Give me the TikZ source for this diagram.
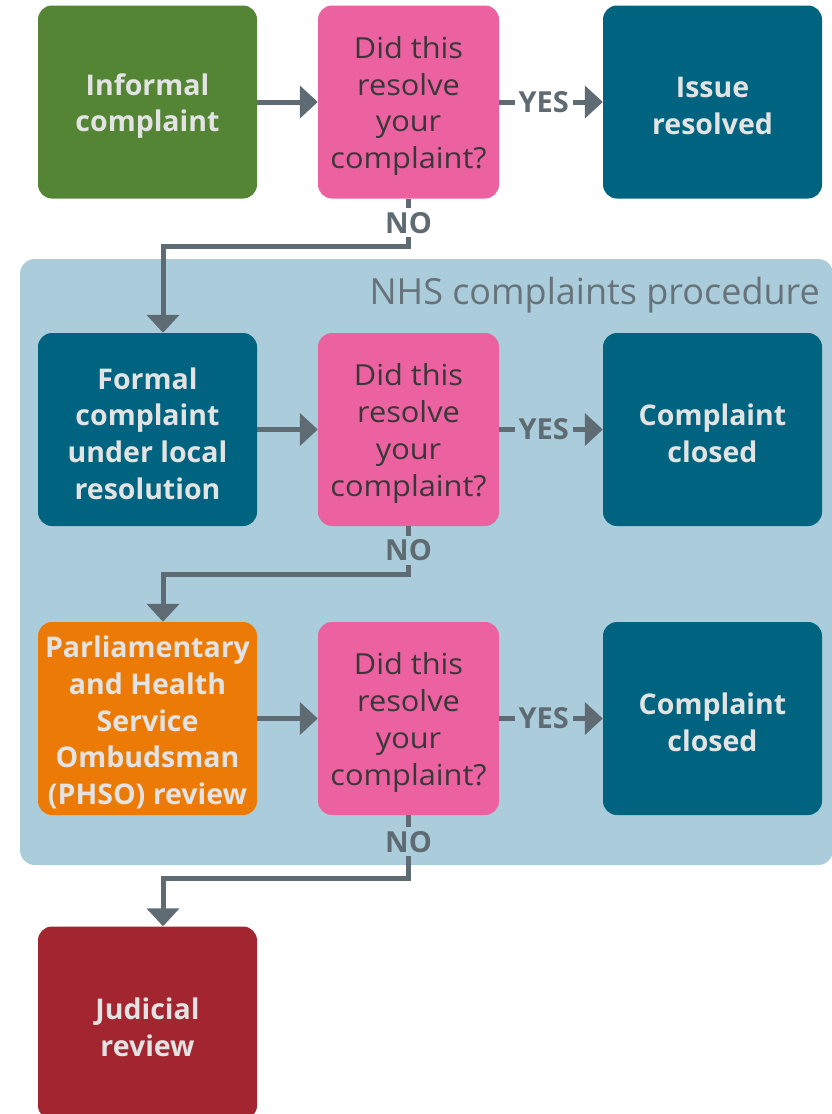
\documentclass[tikz,border=0pt]{standalone}
\usepackage{fontspec}
\setmainfont{Open Sans}
\newfontfamily\askfont{Open Sans}[FakeStretch=1.06]
\usetikzlibrary{arrows.meta}

\definecolor{informalgreen}{HTML}{538535}
\definecolor{askpink}{HTML}{EC61A0}
\definecolor{stageteal}{HTML}{00637F}
\definecolor{phsoorange}{HTML}{EC7A06}
\definecolor{judicialred}{HTML}{A22530}
\definecolor{panelblue}{HTML}{ABCCDA}
\definecolor{flowgray}{HTML}{5F6B73}
\definecolor{titlegray}{HTML}{67737B}
\definecolor{boxtext}{HTML}{E3E3E3}
\definecolor{asktext}{HTML}{383838}

\tikzset{
  stagebox/.style={rounded corners=14pt, minimum width=219pt, minimum height=193pt, inner sep=0pt},
  stagetext/.style={align=center, inner sep=0pt, yshift=-4pt, text=boxtext,
    font=\fontsize{28.5}{36.7}\selectfont\bfseries},
  asktext/.style={stagetext, text=asktext, font=\askfont\fontsize{29}{36.7}\selectfont},
  stage/.style={stagebox, label={[stagetext]center:#1}},
  ask/.style={stagebox, minimum width=181pt, fill=askpink, label={[asktext]center:#1}},
  flow/.style={draw=flowgray, line width=5pt, -{Triangle[width=32pt,length=18pt]}},
  answer/.style={font=\fontsize{29}{29}\selectfont\bfseries, text=flowgray, inner sep=4pt}
}

\begin{document}
\begin{tikzpicture}[x=1pt,y=-1pt]
  \useasboundingbox (0,0) rectangle (832,1114);
  % complaints procedure panel
  \fill [panelblue,rounded corners=15pt] (20,259) rectangle (833,865);
  \node [anchor=base east,inner sep=0pt,text=titlegray,font=\fontsize{36}{36}\selectfont] (panel) at (820,304) {NHS complaints procedure};

  % first row
  \node [stage={Informal\\complaint},fill=informalgreen] (informal) at (147.5,102) {};
  \node [ask={Did this\\resolve\\your\\complaint?}] (ask1) at (408.5,102) {};
  \node [stage={Issue\\resolved},fill=stageteal] (resolved) at (712.5,102) {};

  % second row
  \node [stage={Formal\\complaint\\under local\\resolution},fill=stageteal] (formal) at (147.5,429.5) {};
  \node [ask={Did this\\resolve\\your\\complaint?}] (ask2) at (408.5,429.5) {};
  \node [stage={Complaint\\closed},fill=stageteal] (closed1) at (712.5,429.5) {};

  % third row
  \node [stage={Parliamentary\\and Health\\Service\\Ombudsman\\(PHSO) review},fill=phsoorange] (phso) at (147.5,718.5) {};
  \node [ask={Did this\\resolve\\your\\complaint?}] (ask3) at (408.5,718.5) {};
  \node [stage={Complaint\\closed},fill=stageteal] (closed2) at (712.5,718.5) {};

  % last step
  \node [stage={Judicial\\review},fill=judicialred] (judicial) at (147.5,1023) {};

  % connectors
  \draw [flow] (informal) -- (ask1);
  \draw [flow] (formal) -- (ask2);
  \draw [flow] (phso) -- (ask3);
  \draw [flow] (ask1) -- node [answer,fill=white,pos=0.43] {YES} (resolved);
  \draw [flow] (ask2) -- node [answer,fill=panelblue,pos=0.43] {YES} (closed1);
  \draw [flow] (ask3) -- node [answer,fill=panelblue,pos=0.43] {YES} (closed2);
  \draw [flow] (ask1.south) -- node [answer,fill=white] {NO} ++(0,48) -| ([xshift=15.5pt]formal.north);
  \draw [flow] (ask2.south) -- node [answer,fill=panelblue] {NO} ++(0,48) -| ([xshift=15.5pt]phso.north);
  \draw [flow] (ask3.south) -- node [answer,fill=panelblue,pos=0.42] {NO} ++(0,63) -| ([xshift=15.5pt]judicial.north);
\end{tikzpicture}
\end{document}
